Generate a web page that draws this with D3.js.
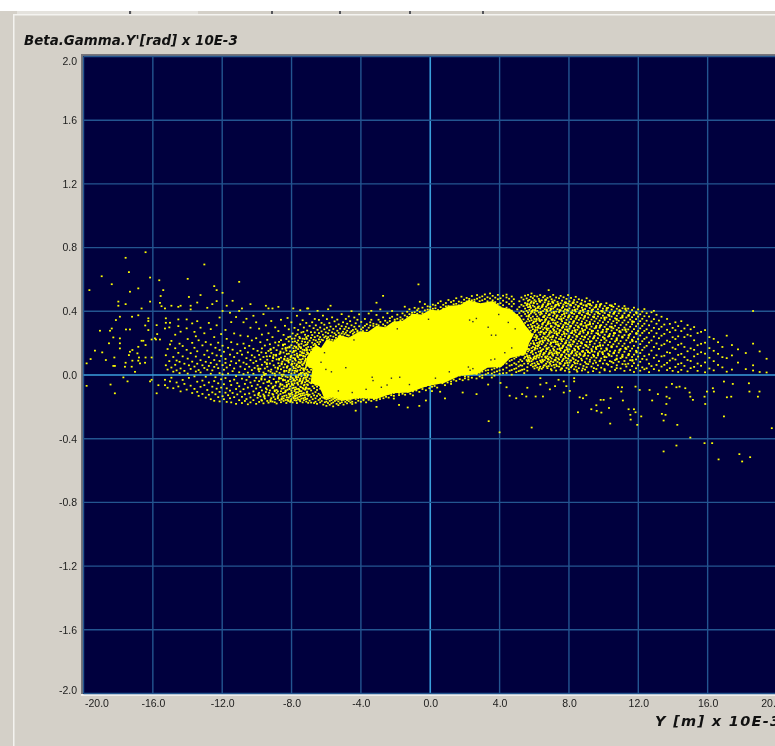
<!DOCTYPE html>
<html>
<head>
<meta charset="utf-8">
<script src="https://cdn.jsdelivr.net/npm/d3@7"></script>
<style>
  html, body { margin: 0; padding: 0; background: #d4d0c8; overflow: hidden; }
  svg { display: block; filter: blur(0.35px); }
</style>
</head>
<body>
<div id="chart"></div>
<script>
// tick labels
var xTicks = [-20, -16, -12, -8, -4, 0, 4, 8, 12, 16, 20];
var yTicks = [2, 1.6, 1.2, 0.8, 0.4, 0, -0.4, -0.8, -1.2, -1.6, -2];

// solid centre of the beam, outline [y, y'], everything in it is saturated
var coreOutline = [[-7.1,.115],[-6.6,.19],[-6.3,.17],[-5.97,.225],[-5.6,.21],[-5.2,.25],[-4.7,.235],[-4.06,.275],[-3.6,.27],[-3.1,.31],[-2.6,.3],[-2.16,.335],
  [-1.6,.34],[-1,.385],[-.5,.38],[0,.41],[.5,.405],[1.1,.435],[1.7,.44],[2.2,.47],[2.9,.45],[3.6,.465],[4.1,.425],[4.6,.415],[5.16,.365],[5.5,.31],[5.95,.25],
  [5.7,.2],[5.5,.13],[4.6,.105],[4.1,.05],[3.3,.045],[2.7,.005],[1.7,-.005],[.8,-.05],[-.2,-.07],[-1.2,-.11],[-2.16,-.115],[-3.1,-.15],[-4.06,-.145],
  [-5,-.16],[-5.7,-.14],[-6.1,-.15],[-6.4,-.07],[-6.9,-.05],[-6.8,.04],[-7.2,.06]];

// small holes left in the saturated centre
var coreGaps = [[-6.02,.035],[-4.87,.046],[-3.35,-.014],[-3.3,-.035],[-2.24,-.02],[-1.76,-.014],[-2.49,-.063],[-2.82,-.077],[2.2,.05],[2.3,.03],[2.46,.04],
  [3.34,.3],[3.53,.25],[3.78,.25],[2.27,.345],[2.46,.335],[2.66,.355],[3.5,.095],[3.72,.1],[-5.3,-.1],[-5.7,.02],[-6.3,.08],[-6.1,.14],[-4.5,-.11],[-3.7,-.09],
  [-1.2,-.06],[.3,-.02],[1.1,.02],[4.3,.14],[4.7,.17],[4.5,.33],[4.9,.29],[3.95,.38],[-.1,.35],[-1.9,.29],[-4.4,.22]];

// single particles around the centre, grouped as [y, [y' values]] in vertical strips
var farLeft = [[-19.82,[.073,-.068]],[-19.66,[.533]],[-19.59,[.1]],[-19.34,[.153]],[-19.05,[.278]],[-18.95,[.62]],[-18.92,[.142]],
  [-18.71,[.094]],[-18.53,[.199]],[-18.47,[.278]],[-18.44,[-.06]],[-18.37,[.57,.292]],[-18.28,[.236,.057]],[-18.22,[.11]],
  [-18.19,[-.115,.057]],[-18.13,[.345]],[-17.99,[.461,.435]],[-17.9,[.366,.23,.199,.167]],[-17.7,[-.015]],[-17.61,[.052]],
  [-17.57,[.736,.445,.077]],[-17.55,[.286]],[-17.46,[-.04]],[-17.38,[.646,.125]],[-17.32,[.523,.286,.146]],[-17.22,[.052]],
  [-17.2,[.366]],[-17.18,[.157,.09]],[-17.03,[.02]],[-16.89,[.136]],[-16.84,[.544,.375,.177,.09]],[-16.8,[.11]],[-16.74,[.073]],
  [-16.65,[.418,.215]],[-16.55,[.215]],[-16.45,[.077]],[-16.44,[.311]],[-16.42,[.771,.188,.11]],[-16.26,[.356,.339,.282]],
  [-16.16,[.612,.461,-.04]],[-16.07,[.223,.11,-.03]],[-15.88,[.23]],[-15.82,[.223]],[-15.78,[.313,-.115]],[-15.75,[.257]],
  [-15.68,[-.064]],[-15.63,[.595]],[-15.59,[.453,.223]],[-15.55,[.496]],[-15.5,[.432]],[-15.4,[.533]],[-15.3,[.418,.292,-.03,-.064]],
  [-15.25,[.356,.328,.124,.061]],[-15.15,[-.08,.163,.034]],[-15.05,[.299,.087]],[-15.01,[.328,-.04,.192]]];

var midLeft = [[-14.93,[.435,.214,.047,-.017]],[-14.82,[.113,.021,-.083]],[-14.71,[.253,.168,.064]],[-14.63,[.091,-.047,.029]],[-14.53,[.428,.349,.307,.139,-.072]],
  [-14.46,[.197,.083,.012]],[-14.4,[.435,.272,.041,-.103]],[-14.28,[.182,.117,-.031]],[-14.18,[.071,.026,-.056]],[-14.05,[.349,.293,.158,-.092]],[-13.99,[.604,.226,.103,.009]],
  [-13.92,[.49,.061,-.018]],[-13.82,[.435,.412,.137,.038,-.067]],[-13.73,[.324,.202,.084,-.113]],[-13.6,[.271,.171,.053,-.009,-.087]],[-13.52,[.243,.116,.022]],
  [-13.44,[.455,.338,.149,.071,-.042,-.106]],[-13.36,[.218,.031,-.131]],[-13.25,[.502,.297,.093,.016,-.074]],[-13.14,[.186,.061,-.035,-.119]],
  [-13.03,[.694,.262,.127,.044,-.064]],[-12.95,[.207,.083,-.011,-.142]],[-12.86,[.422,.153,.033,-.094]],[-12.77,[.327,.112,.057,-.047,-.124]],
  [-12.66,[.288,.191,.076,.008,-.152]],[-12.57,[.445,.136,.029,-.073,-.109]],[-12.46,[.558,.238,.094,.051,-.038,-.162]],[-12.39,[.171,-.014,-.121]],
  [-12.32,[.533,.464,.312,.123,.066,-.086]],[-12.23,[.203,.043,-.052,-.139]],[-12.15,[.361,.157,.088,.012,-.106,-.166]],[-12.06,[.257,.119,-.027,-.079]],
  [-11.98,[.516,.402,.184,.062,.004,-.133]]];

var nearLeft = [[-11.9,[.146,.033,-.058,-.152]],[-11.81,[.283,.101,.076,-.019,-.111]],[-11.74,[.435,.227,.047,-.084,-.169]],[-11.66,[.171,.009,-.127]],
  [-11.55,[.391,.128,.062,-.038,-.098,-.146]],[-11.48,[.332,.206,.086,-.063,-.172]],[-11.4,[.466,.159,.024,-.113]],[-11.31,[.261,.113,.041,-.029,-.139]],
  [-11.2,[.364,.074,-.007,-.088,-.181]],[-11.13,[.193,.137,-.051,-.122]],[-11.02,[.585,.402,.091,.017,-.071,-.158]],[-10.95,[.248,.152,.053,-.104]],
  [-10.86,[.418,.128,-.023,-.137,-.176]],[-10.77,[.331,.197,.078,.006,-.089]],[-10.69,[.169,.037,-.056,-.121,-.163]],[-10.6,[.353,.106,.068,-.031,-.151]],
  [-10.52,[.243,.142,.015,-.079,-.184]],[-10.44,[.183,.052,-.012,-.116]],[-10.37,[.445,.297,.093,-.047,-.141,-.172]],[-10.29,[.217,.124,.031,-.069]],
  [-10.2,[.372,.164,.076,.008,-.103,-.158]],[-10.13,[.111,.044,-.036,-.127]],[-10.04,[.331,.231,.087,-.018,-.085,-.181]],[-9.96,[.152,.058,-.061,-.143]],
  [-9.87,[.291,.126,.023,-.039,-.112,-.169]],[-9.8,[.206,.098,.039,-.076,-.134]],[-9.71,[.254,.167,.064,-.009,-.097,-.161]],[-9.62,[.382,.113,.016,-.052,-.122,-.178]],
  [-9.54,[.185,.081,.041,-.028,-.148]],[-9.48,[.435,.311,.138,.007,-.083,-.107]],[-9.4,[.221,.096,.052,-.044,-.163]],[-9.33,[.418,.262,.151,.027,-.068,-.128,-.174]],
  [-9.25,[.193,.118,.072,-.014,-.097]],[-9.17,[.339,.139,.034,-.053,-.146]],[-9.1,[.418,.238,.089,.011,-.081,-.119,-.167]],[-9.03,[.171,.126,.061,-.026,-.138]],
  [-8.94,[.299,.204,.047,-.004,-.067,-.152]],[-8.86,[.156,.098,.022,-.094,-.113,-.179]],[-8.76,[.428,.276,.186,.074,-.041,-.127]],[-8.69,[.132,.057,.013,-.073,-.158]],
  [-8.61,[.347,.219,.109,.036,-.021,-.102,-.171]],[-8.53,[.165,.084,-.008,-.061,-.136]],[-8.46,[.252,.141,.048,.003,-.084,-.147,-.163]],[-8.38,[.309,.193,.117,.067,-.032,-.109]],
  [-8.3,[.226,.153,.091,.026,-.046,-.074,-.128,-.176]],[-8.23,[.358,.172,.103,.056,-.014,-.093,-.156]],[-8.16,[.287,.211,.134,.078,.017,-.056,-.117,-.142]],
  [-8.08,[.241,.149,.097,.038,-.027,-.071,-.133,-.169]],[-8.01,[.331,.187,.121,.064,.009,-.043,-.098,-.151]],[-7.94,[.261,.208,.142,.086,.029,-.019,-.083,-.124,-.172]],
  [-7.9,[.418,.168,.107,.052,-.035,-.063,-.139]],[-7.83,[.296,.229,.181,.127,.073,.013,-.052,-.101,-.158]],[-7.76,[.247,.153,.091,.041,-.007,-.078,-.116,-.147]],
  [-7.69,[.372,.203,.134,.067,.022,-.029,-.088,-.129,-.176]],[-7.62,[.283,.217,.163,.111,.049,-.013,-.061,-.108,-.154]],[-7.55,[.239,.177,.098,.058,.006,-.039,-.094,-.137]],
  [-7.5,[.407,.318,.147,.076,.031,-.022,-.073,-.119,-.165]],[-7.43,[.267,.196,.124,.083,.043,-.008,-.054,-.101,-.148]],[-7.36,[.344,.228,.159,.101,.061,.014,-.034,-.081,-.127,-.172]],
  [-7.29,[.298,.184,.137,.072,.027,-.017,-.066,-.113,-.158]],[-7.22,[.253,.207,.116,.089,.038,-.004,-.046,-.092,-.141]],[-7.15,[.327,.238,.169,.128,.056,.011,-.028,-.077,-.122,-.167]],
  [-7.1,[.418,.279,.193,.143,.079,.033,-.012,-.059,-.104,-.149]],[-7.04,[.418,.246,.176,.107,.066,.021,-.037,-.086,-.131,-.175]]];

// second reading of the busy patch left of the centre, these clump into short chains
var nearLeftClumps = [[-9.91,[.041,.034,-.118,-.126]],[-9.74,[.142,-.021,-.029,-.157]],[-9.57,[.006,-.001,-.131,-.138]],[-9.43,[.117,.074,.068,-.091]],[-9.29,[-.036,-.043,-.112]],
  [-9.21,[.163,.158,.021,-.157,-.166]],[-9.06,[.112,.106,-.073,-.079,-.124]],[-8.97,[.009,-.096,-.102,-.171]],[-8.89,[.127,.121,-.043,-.048]],[-8.79,[.046,.039,-.138,-.146,-.103]],
  [-8.72,[.208,.102,.096,-.017,-.024]],[-8.64,[.147,.139,-.054,-.062,-.119]],[-8.57,[.073,.067,.002,-.086,-.148,-.154]],[-8.49,[.191,.186,-.028,-.034,-.112]],
  [-8.42,[.102,.096,.027,.021,-.071,-.131]],[-8.34,[.171,.164,-.009,-.097,-.103,-.157]],[-8.27,[.132,.051,.046,-.061,-.067,-.141]],[-8.19,[.238,.092,.086,-.036,-.041,-.163]],
  [-8.12,[.178,.173,.034,.029,-.084,-.089,-.124]],[-8.05,[.117,.111,-.008,-.013,-.118,-.159,-.164]],[-7.98,[.228,.071,.066,-.056,-.061,-.111]],[-7.87,[.152,.146,.043,-.027,-.079,-.146]],
  [-7.8,[.211,.104,.098,.026,-.036,-.091,-.128,-.134]],[-7.73,[.176,.171,.058,-.013,-.018,-.108,-.161]],[-7.66,[.256,.122,.116,.029,-.048,-.052,-.144]],[-7.59,[.193,.188,.082,.077,-.001,-.087,-.121]],
  [-7.52,[.231,.128,.123,.052,-.031,-.036,-.102,-.157]],[-7.46,[.174,.169,.096,.013,.008,-.076,-.131]],[-7.39,[.211,.143,.138,.067,-.043,-.048,-.116]],
  [-7.32,[.271,.121,.116,.042,.036,-.024,-.087,-.146]],[-7.25,[.226,.158,.153,.081,.009,.004,-.061,-.127]],[-7.18,[.189,.102,.097,.047,-.017,-.081,-.086,-.152]],
  [-7.12,[.227,.161,.156,.067,.062,-.038,-.109]],[-7.06,[.204,.138,.133,.091,.004,-.002,-.063,-.121]]];

var upperHalo = [[-6.96,[.382,.308,.216,.157,.131]],[-6.88,[.269,.233,.176,.144]],[-6.81,[.331,.251,.203,.162]],[-6.73,[.294,.221,.188,.169]],[-6.66,[.352,.267,.238,.196]],
  [-6.6,[.312,.217,.187]],[-6.5,[.403,.284,.246,.206]],[-6.42,[.346,.263,.224,.194]],[-6.35,[.298,.238,.208]],[-6.27,[.327,.274,.222]],[-6.19,[.373,.253,.218]],
  [-6.11,[.316,.287,.236]],[-6.03,[.268,.243]],[-5.96,[.351,.297,.229]],[-5.89,[.413,.262,.238]],[-5.82,[.326,.281,.224]],[-5.75,[.435,.304,.246]],[-5.66,[.362,.268,.221]],
  [-5.59,[.289,.241]],[-5.52,[.337,.262,.219]],[-5.44,[.305,.252,.233]],[-5.36,[.348,.278]],[-5.28,[.318,.264,.243]],[-5.2,[.291,.249]],[-5.11,[.382,.307,.261]],
  [-5.03,[.331,.272,.242]],[-4.95,[.289,.257]],[-4.87,[.352,.303,.266]],[-4.79,[.322,.278,.251]],[-4.7,[.368,.294,.248]],[-4.62,[.338,.268]],[-4.54,[.401,.312,.276]],
  [-4.46,[.283,.259]],[-4.38,[.361,.303,.268]],[-4.3,[.325,.288]],[-4.2,[.347,.279,.271]],[-4.1,[.381,.306]],[-3.98,[.333,.287]],[-3.88,[.298,.276]],[-3.77,[.352,.309]],
  [-3.66,[.319,.281]],[-3.55,[.386,.297]],[-3.46,[.331,.311]],[-3.4,[.403,.347]],[-3.28,[.322,.308]],[-3.1,[.454,.377,.318]],[-2.98,[.347,.312]],[-2.88,[.412,.333]],
  [-2.72,[.497,.362,.318]],[-2.6,[.341,.309]],[-2.47,[.388,.329]],[-2.33,[.357,.339]],[-2.2,[.402,.366]],[-2.05,[.348,.337]],[-1.9,[.379,.353]],[-1.72,[.362,.344]],
  [-1.6,[.387,.351]],[-1.47,[.429,.374]],[-1.33,[.397,.366]],[-1.2,[.413,.382]],[-1.05,[.391,.378]],[-.9,[.422,.394]],[-.75,[.407,.385]],[-.68,[.569,.417]],
  [-.6,[.46,.396]],[-.45,[.423,.388]],[-.31,[.445,.406]],[-.15,[.431,.411]],[0,[.428,.409]],[.15,[.442,.416]],[.3,[.437,.419]],[.45,[.451,.408]],[.6,[.463,.426]],
  [.75,[.441,.417]],[.9,[.452,.431]],[1.05,[.471,.433]],[1.2,[.458,.429]],[1.35,[.466,.444]],[1.5,[.482,.447]],[1.65,[.461,.438]],[1.8,[.492,.456]],[1.95,[.473,.452]],
  [2.1,[.484,.462]],[2.25,[.478,.466]],[2.4,[.496,.469]],[2.55,[.473,.461]],[2.7,[.502,.479]],[2.85,[.487,.464]],[3,[.494,.469]],[3.15,[.506,.477]],[3.3,[.488,.463]],
  [3.45,[.512,.481]],[3.6,[.497,.469]],[3.75,[.486,.458]],[3.9,[.503,.476,.446]],[4.05,[.482,.451,.426]],[4.2,[.498,.467,.438]],[4.4,[.487,.505,.457,.423]],
  [4.55,[.479,.446,.412]],[4.7,[.493,.462,.431,.404]],[4.82,[.476,.447,.388]]];

var lowerHalo = [[-6.96,[.048,.017,-.023,-.047,-.086,-.124,-.161]],[-6.87,[.033,-.006,-.052,-.097,-.138,-.173]],[-6.78,[.054,.011,-.034,-.071,-.116,-.152]],
  [-6.7,[-.047,-.083,-.128,-.176]],[-6.62,[-.031,-.062,-.107,-.146,-.168]],[-6.53,[-.073,-.094,-.132,-.181]],[-6.44,[-.058,-.118,-.157]],[-6.35,[-.086,-.126,-.149,-.172]],
  [-6.26,[-.091,-.138,-.163]],[-6.17,[-.109,-.143,-.186]],[-6.08,[-.148,-.171]],[-5.99,[-.152,-.167,-.194]],[-5.9,[-.149,-.176]],[-5.8,[-.146,-.163,-.187]],
  [-5.7,[-.142,-.158,-.178]],[-5.6,[-.151,-.172,-.197]],[-5.5,[-.147,-.163]],[-5.4,[-.156,-.181]],[-5.3,[-.151,-.166,-.189]],[-5.2,[-.154,-.177]],[-5.1,[-.158,-.171]],
  [-5,[-.155,-.186]],[-4.9,[-.152,-.169]],[-4.8,[-.158,-.178]],[-4.7,[-.149,-.164]],[-4.6,[-.155,-.173]],[-4.5,[-.147,-.168,-.182]],[-4.3,[-.224,-.151,-.174]],
  [-4.15,[-.146,-.162]],[-4,[-.143,-.168]],[-3.85,[-.152,-.159]],[-3.7,[-.144,-.172]],[-3.55,[-.148,-.156]],[-3.4,[-.141,-.163]],[-3.25,[-.146,-.152]],
  [-3.1,[-.2,-.147,-.159]],[-2.9,[-.136,-.151]],[-2.7,[-.128,-.146]],[-2.55,[-.121,-.137]],[-2.4,[-.119,-.142]],[-2.25,[-.116,-.127]],[-2.1,[-.113,-.131,-.148]],
  [-1.8,[-.188,-.112,-.126]],[-1.6,[-.103,-.118]],[-1.45,[-.097,-.124]],[-1.3,[-.204,-.106]],[-1.15,[-.094,-.118]],[-1,[-.089,-.103,-.128]],[-.8,[-.084,-.097]],
  [-.63,[-.194,-.076,-.106]],[-.45,[-.072,-.088]],[-.25,[-.16,-.069,-.096]],[-.05,[-.064,-.083]],[.1,[-.058,-.074,-.101]],[.25,[-.049,-.069]],[.4,[-.046,-.079]],
  [.57,[-.105,-.038]],[.7,[-.034,-.052]],[.85,[-.147,-.031,-.064]],[1,[-.023,-.047]],[1.2,[-.018,-.041,-.056]],[1.35,[-.014,-.029]],[1.5,[-.009,-.037]],
  [1.7,[-.004,-.026]],[1.87,[-.11,.002,-.033]],[2,[-.008,-.021]],[2.2,[.004,-.012,-.028]],[2.4,[.009,-.017]],[2.67,[-.12,.006,-.022]],[2.85,[.014,-.009]],
  [3,[.021,-.003,-.018]],[3.2,[.028,.004]],[3.34,[-.06,.031,.012]],[3.37,[-.29]],[3.55,[.034,.009,-.016]],[3.7,[.041,.017,-.004]],[3.85,[.047,.023]],
  [4,[-.36,.052,.029,.007]],[4.05,[-.05]],[4.2,[.067,.034,.011]],[4.4,[-.077,.072,.046,.013]],[4.58,[-.13,.088,.059,.027]],[4.7,[.094,.063,.031,.002]],[4.85,[.103,.074,.038]],
  [4.96,[-.146,.112,.067,.042,.018]],[5.1,[.121,.083,.054,.024]],[5.2,[.133,.096,.061,.028]],[5.3,[-.12,.126,.087,.059,.033]],[5.42,[.147,.104,.071,.036,.012]],
  [5.54,[-.135]],[5.6,[-.08,.163,.119,.086,.049,.027]],[5.85,[-.33]],[6.08,[-.135]],[6.5,[-.135]],[6.7,[-.05]],[7.2,[-.07]],[7.85,[-.07]],[8.05,[-.1]]];

var nearRight = [[5.02,[.412,.378,.341,.358]],[5.14,[.463,.427,.389,.356]],[5.26,[.487,.441,.402,.371,.334,.186,.163]],[5.38,[.474,.433,.396,.349,.312,.176,.148,.127]],
  [5.47,[.498,.452,.417,.383,.327,.218,.193,.157,.113]],[5.56,[.481,.438,.403,.369,.336,.287,.229,.171,.132,.094]],[5.64,[.503,.466,.426,.392,.351,.313,.206,.148,.108,.072]],
  [5.72,[.472,.444,.409,.378,.339,.298,.267,.186,.157,.121,.084]],[5.8,[.491,.453,.421,.387,.358,.317,.279,.233,.198,.141,.103,.062]],[5.84,[.512,.462,.397,.344,.246,.169,.087]],
  [5.92,[.483,.436,.408,.367,.326,.288,.257,.214,.176,.131,.096,.053]],[6.01,[.497,.471,.429,.391,.352,.309,.269,.237,.193,.158,.117,.074,.041]],
  [6.09,[.462,.418,.381,.337,.298,.251,.219,.183,.139,.102,.061]],[6.17,[.493,.447,.403,.368,.322,.283,.243,.201,.166,.124,.083,.047]],
  [6.26,[.478,.431,.392,.356,.311,.267,.226,.188,.147,.109,.068,.032]],[6.34,[.502,.459,.417,.379,.338,.294,.254,.212,.171,.133,.091,.052]],
  [6.43,[.469,.426,.385,.346,.303,.272,.231,.193,.156,.114,.078,.039]],[6.51,[.488,.444,.402,.364,.327,.286,.241,.204,.162,.127,.086,.048]],
  [6.6,[.497,.456,.413,.373,.333,.296,.258,.217,.179,.138,.094,.061]],[6.68,[.473,.429,.388,.351,.309,.269,.228,.186,.149,.107,.071]],
  [6.76,[.484,.438,.399,.362,.318,.281,.243,.199,.163,.118,.083,.043]],[6.83,[.533,.462,.421,.376,.337,.292,.252,.214,.172,.131,.096,.056]],
  [6.92,[.491,.447,.406,.358,.323,.276,.237,.191,.154,.112,.069]],[7,[.476,.431,.392,.347,.306,.268,.223,.181,.142,.103,.058,.029]],
  [7.09,[.503,.453,.417,.371,.329,.289,.247,.206,.166,.121,.081]],[7.17,[.468,.426,.384,.343,.301,.263,.218,.177,.136,.094,.047]],
  [7.26,[.487,.441,.398,.359,.316,.273,.234,.193,.148,.109,.066,.028]],[7.34,[.459,.413,.374,.332,.291,.249,.208,.163,.126,.082]],
  [7.43,[.482,.436,.394,.352,.307,.264,.226,.183,.139,.097,.053]],[7.52,[.497,.451,.407,.366,.323,.281,.239,.197,.154,.113,.071,.032]],
  [7.6,[.467,.421,.378,.338,.296,.253,.212,.169,.128,.086,.041]],[7.69,[.488,.443,.401,.357,.314,.272,.227,.186,.143,.102,.058]],
  [7.77,[.456,.412,.369,.328,.286,.243,.198,.156,.117,.074,.027]],[7.86,[.478,.433,.389,.346,.303,.258,.217,.174,.131,.089,.044]],
  [7.95,[.502,.448,.404,.361,.319,.274,.232,.188,.147,.103,.061]],[8.03,[.463,.418,.376,.332,.291,.247,.204,.161,.119,.078,.019]],
  [8.12,[.484,.437,.392,.351,.308,.263,.221,.179,.134,.091,.048]],[8.21,[.451,.407,.366,.323,.278,.236,.193,.152,.108,.063]],
  [8.3,[.471,.426,.383,.339,.296,.254,.209,.166,.123,.081,.036]],[8.39,[.491,.442,.398,.353,.312,.268,.224,.181,.137,.094,.052]]];

// second reading of the busy patch right of the centre, these clump into short chains
var nearRightClumps = [[5.6,[.449,.443,.261,.254,.118]],[5.68,[.372,.366,.241,.234,.164,.096,.091]],[5.76,[.433,.427,.252,.246,.109]],[5.88,[.403,.397,.307,.301,.152,.146,.071]],
  [5.97,[.456,.451,.336,.331,.201,.196,.108,.103]],[6.05,[.409,.404,.282,.276,.171,.166,.058]],[6.13,[.352,.346,.237,.231,.118,.113]],[6.21,[.426,.421,.301,.296,.186,.181,.071]],
  [6.3,[.468,.463,.348,.342,.206,.201,.126,.121,.043]],[6.38,[.396,.391,.273,.268,.151,.146,.082]],[6.47,[.437,.431,.321,.316,.217,.211,.097,.092]],[6.55,[.368,.363,.264,.259,.138,.133,.059]],
  [6.64,[.474,.469,.348,.343,.236,.231,.116,.111]],[6.72,[.411,.406,.293,.288,.168,.163,.053]],[6.8,[.449,.444,.329,.323,.223,.218,.104,.099]],[6.88,[.382,.377,.266,.261,.142,.137,.078]],
  [6.96,[.417,.412,.308,.303,.204,.199,.086,.037]],[7.05,[.462,.457,.351,.346,.243,.238,.132,.127]],[7.13,[.396,.391,.283,.278,.158,.153,.064]],[7.22,[.438,.433,.326,.321,.211,.206,.096,.091]],
  [7.3,[.373,.368,.261,.256,.142,.137,.056]],[7.38,[.447,.442,.312,.307,.194,.189,.104]],[7.47,[.407,.402,.282,.277,.168,.163,.076,.071]],[7.56,[.352,.347,.226,.221,.127,.122,.041]],
  [7.65,[.431,.426,.304,.299,.182,.177,.094]],[7.73,[.388,.383,.263,.258,.147,.142,.062]],[7.82,[.456,.451,.328,.323,.206,.201,.108]],[7.9,[.411,.406,.286,.281,.163,.158,.076]],
  [7.99,[.371,.366,.243,.238,.126,.121,.036]],[8.08,[.442,.437,.308,.303,.189,.184,.091]],[8.17,[.393,.388,.268,.263,.144,.139,.056]],[8.26,[.458,.453,.336,.331,.213,.208,.101]],
  [8.35,[.411,.406,.282,.277,.159,.154,.073]],[8.44,[.367,.362,.246,.241,.127,.122,.031]],[8.53,[.433,.428,.306,.301,.178,.173,.087]],[8.62,[.392,.387,.263,.258,.136,.131]],
  [8.71,[.451,.446,.322,.317,.206,.201,.102]],[8.8,[.411,.406,.281,.276,.151,.146,.041]],[8.9,[.367,.362,.241,.236,.127,.122]],[9,[.439,.434,.312,.307,.186,.181,.071]],
  [9.1,[.389,.384,.266,.261,.149,.144]],[9.21,[.446,.441,.323,.318,.211,.206,.096]],[9.32,[.408,.403,.279,.274,.153,.148]],[9.44,[.367,.362,.238,.233,.121,.116,.043]],
  [9.56,[.432,.427,.302,.297,.174,.169,.078]],[9.68,[.393,.388,.261,.256,.137,.132]],[9.8,[.443,.438,.311,.306,.188,.183,.091]],[9.93,[.402,.397,.273,.268,.144,.139]],
  [10.05,[.361,.356,.232,.227,.117,.112,.037]],[10.18,[.421,.416,.289,.284,.163,.158,.071]],[10.32,[.376,.371,.249,.244,.128,.123]],[10.46,[.437,.432,.303,.298,.181,.176,.083]],
  [10.6,[.391,.386,.264,.259,.142,.137]],[10.75,[.352,.347,.223,.218,.103,.098,.043]],[10.92,[.408,.403,.276,.271,.158,.153]],[11.08,[.366,.361,.241,.236,.118,.113]],
  [11.26,[.418,.413,.287,.282,.171,.166,.067]],[11.45,[.377,.372,.251,.246,.133,.128]],[11.66,[.338,.333,.217,.212,.094,.089]],[11.9,[.392,.387,.263,.258,.147,.142]]];

var midRight = [[8.48,[.458,.414,.371,.327,.284,.241,.197,.146,.073,.021]],[8.57,[.476,.432,.388,.346,.298,.256,.213,.164,.112,.043]],[8.66,[.447,.403,.358,.317,.273,.228,.183,.126,.067]],
  [8.75,[.469,.423,.377,.336,.291,.243,.198,.148,.092,.028]],[8.84,[.438,.394,.352,.308,.266,.221,.171,.118,.057]],[8.93,[.461,.414,.371,.327,.283,.237,.189,.137,.081,.034]],
  [9.02,[.482,.431,.386,.341,.296,.252,.207,.156,.103,.049]],[9.11,[.447,.403,.361,.316,.269,.226,.174,.121,.068,.017]],[9.2,[.467,.421,.378,.333,.287,.241,.191,.139,.084]],
  [9.3,[.436,.393,.348,.304,.261,.212,.163,.109,.053]],[9.39,[.456,.412,.366,.322,.277,.229,.178,.127,.072,.024]],[9.48,[.424,.381,.337,.293,.246,.197,.146,.091]],
  [9.58,[.441,.397,.354,.309,.263,.216,.162,.108,.038]],[9.67,[.461,.413,.368,.326,.278,.231,.181,.123,.061]],[9.77,[.428,.384,.342,.297,.249,.203,.148,.087,.016]],
  [9.86,[.446,.402,.358,.313,.267,.219,.166,.104,.046]],[9.96,[.417,.373,.331,.284,.238,.186,.131,.072]],[10.06,[.433,.389,.346,.302,.253,.204,.151,.093,.029]],
  [10.16,[.451,.406,.361,.317,.271,.217,.168,.112]],[10.26,[.422,.378,.333,.288,.241,.189,.134,.064]],[10.36,[.438,.392,.349,.304,.258,.206,.149,.087,.023]],
  [10.46,[.411,.367,.323,.279,.227,.174,.118,.051]],[10.56,[.428,.384,.338,.293,.246,.193,.136,.076]],[10.66,[.446,.398,.356,.309,.263,.211,.153,.094,.032]],
  [10.76,[.416,.372,.328,.283,.231,.179,.122,.061]],[10.87,[.431,.387,.341,.296,.248,.198,.141,.083]],[10.98,[.402,.358,.314,.268,.213,.164,.106,.041]],
  [11.09,[.419,.374,.329,.284,.236,.182,.127,.069]],[11.2,[.433,.388,.343,.298,.251,.197,.146,.088,.026]],[11.31,[.404,.361,.316,.271,.218,.163,.109,.053]],
  [11.42,[.417,.373,.331,.286,.233,.178,.124,.071]],[11.53,[.392,.349,.303,.258,.204,.151,.093,.031]],[11.64,[.408,.363,.319,.273,.222,.166,.113,.056]],
  [11.75,[.423,.378,.334,.288,.237,.183,.128,.074,.019]],[11.87,[.394,.351,.306,.261,.209,.152,.098,.042]],[11.99,[.412,.367,.322,.276,.226,.171,.116,.061]],
  [12.11,[.381,.338,.293,.248,.194,.138,.083,.027]],[12.23,[.398,.353,.308,.264,.212,.157,.101,.048]],[12.35,[.414,.369,.322,.277,.227,.173,.119,.036]]];

var farRight = [[12.48,[.388,.341,.287,.236,.183,.097,.042]],[12.62,[.367,.312,.264,.204,.129,.071,.018]],[12.76,[.394,.336,.278,.217,.153,.056]],[12.9,[.403,.351,.296,.241,.176,.108,.037]],
  [13.05,[.378,.322,.262,.198,.124,.063]],[13.19,[.342,.289,.231,.164,.087,.028]],[13.34,[.366,.303,.247,.186,.117,.053]],[13.5,[.317,.258,.194,.121,.064]],
  [13.66,[.352,.284,.216,.143,.076,.031]],[13.82,[.321,.269,.208,.139,.091,.043]],[13.98,[.296,.237,.172,.104,.026]],[14.14,[.331,.281,.226,.163,.097,.051]],
  [14.3,[.307,.243,.189,.126,.068,.019]],[14.48,[.338,.276,.197,.133,.074,.032]],[14.66,[.292,.238,.176,.112,.057]],[14.84,[.313,.253,.149,.094,.023]],
  [15.02,[.287,.246,.167,.088,.043]],[15.22,[.301,.218,.158,.117,.051]],[15.42,[.263,.187,.131,.072,.026]],[15.62,[.271,.196,.143,.058]],[15.85,[.282,.203,.134,.079,.017]],
  [16.1,[.238,.169,.108,.041]],[16.35,[.227,.152,.087,.029]],[16.6,[.206,.133,.063]],[16.85,[.176,.112,.048]],[17.1,[.247,.106,.021]],[17.4,[.188,.123,.034]],
  [17.75,[.161,.078]],[18.2,[.138,.037]],[18.62,[.402,.197,.061,.028]],[19,[.148,.019]],[19.4,[.102,.016]]];

// particles below the zero line on the right hand side
var belowRight = [[8.52,[-.234]],[8.62,[-.14]],[8.81,[-.146]],[9,[-.127]],[9.29,[-.215]],[9.58,[-.19]],[9.6,[-.225]],[9.83,[-.156]],[9.87,[-.236]],[10,[-.156]],
  [10.31,[-.207]],[10.38,[-.305]],[10.4,[-.146]],[10.83,[-.077]],[11.02,[-.104]],[11.06,[-.077]],[11.11,[-.16]],[11.44,[-.215]],[11.54,[-.25]],[11.56,[-.28]],
  [11.75,[-.215]],[11.84,[-.234,-.073]],[11.94,[-.313]],[12.08,[-.094]],[12.17,[-.26]],[12.65,[-.094]],[12.8,[-.16]],[13.13,[-.12]],[13.36,[-.244]],[13.46,[-.286,-.48]],
  [13.57,[-.25]],[13.62,[-.182,-.077]],[13.63,[-.136]],[13.8,[-.146]],[13.94,[-.056]],[14.2,[-.077,-.443]],[14.25,[-.313]],[14.38,[-.073]],[14.71,[-.083]],
  [14.96,[-.11]],[15,[-.136,-.393]],[15.15,[-.156]],[15.82,[-.136,-.428]],[15.86,[-.182]],[15.96,[-.104]],[16.26,[-.428]],[16.3,[-.083]],[16.36,[-.104]],
  [16.63,[-.53]],[16.94,[-.041,-.26]],[17.11,[-.14]],[17.36,[-.136]],[17.45,[-.056]],[17.83,[-.497]],[17.99,[-.543]],[18.38,[-.052]],[18.41,[-.104]],
  [18.45,[-.516]],[18.9,[-.136]],[18.99,[-.104]],[19.7,[-.334]],[6.35,[-.06,-.02]],[6.9,[-.09]],[7.4,[-.03]],[7.7,[-.11,-.04]],[8.3,[-.04,-.02]]];

var width = 775, height = 746;

var svg = d3.select("#chart").append("svg")
  .attr("width", width)
  .attr("height", height);

var x = d3.scaleLinear().domain([-20, 20]).range([83.5, 777]);
var y = d3.scaleLinear().domain([-2, 2]).range([693.5, 56.5]);

// window furniture around the plot
svg.append("rect").attr("width", width).attr("height", 11).attr("fill", "#ffffff");
svg.append("rect").attr("x", 13).attr("y", 14).attr("width", width).attr("height", 1.5).attr("fill", "#f4f3f0");
svg.append("rect").attr("x", 13).attr("y", 14).attr("width", 1.5).attr("height", height).attr("fill", "#f4f3f0");
[[17, 130], [132, 198]].forEach(function(t) {
  svg.append("rect").attr("x", t[0]).attr("y", 11).attr("width", t[1] - t[0]).attr("height", 3).attr("fill", "#e4e2dd");
});
[130, 272, 340, 410, 483].forEach(function(t) {
  svg.append("rect").attr("x", t - 1).attr("y", 11).attr("width", 2).attr("height", 3).attr("fill", "#55555a");
});

// plot frame and background
svg.append("rect").attr("x", 81).attr("y", 54).attr("width", 700).attr("height", 642).attr("fill", "#77757a");
svg.append("rect").attr("x", 81).attr("y", 694).attr("width", 700).attr("height", 2).attr("fill", "#f0efec");
svg.append("rect").attr("x", 83).attr("y", 56).attr("width", 700).attr("height", 638).attr("fill", "#00003e");

var grid = svg.append("g");
grid.selectAll(".gx").data(xTicks).enter().append("line")
  .attr("x1", function(d) { return x(d); }).attr("x2", function(d) { return x(d); })
  .attr("y1", y(2)).attr("y2", y(-2))
  .attr("stroke", function(d) { return d === 0 ? "#3a9fdc" : "#235590"; })
  .attr("stroke-width", function(d) { return d === 0 ? 1.6 : 1.4; });
grid.selectAll(".gy").data(yTicks).enter().append("line")
  .attr("y1", function(d) { return y(d); }).attr("y2", function(d) { return y(d); })
  .attr("x1", x(-20)).attr("x2", width)
  .attr("stroke", function(d) { return d === 0 ? "#3a9fdc" : "#235590"; })
  .attr("stroke-width", function(d) { return d === 0 ? 1.6 : 1.4; });

// particles
svg.append("path")
  .attr("d", d3.line().x(function(d) { return x(d[0]); }).y(function(d) { return y(d[1]); })(coreOutline) + "Z")
  .attr("fill", "#ffff00");

svg.append("g").selectAll("rect").data(coreGaps).enter().append("rect")
  .attr("x", function(d) { return x(d[0]) - 0.7; })
  .attr("y", function(d) { return y(d[1]) - 0.7; })
  .attr("width", 1.4)
  .attr("height", 1.4)
  .attr("fill", "#2a2a30");

var particles = [];
[farLeft, midLeft, nearLeft, nearLeftClumps, upperHalo, lowerHalo, nearRight, nearRightClumps, midRight, farRight, belowRight].forEach(function(group) {
  group.forEach(function(strip) {
    strip[1].forEach(function(v) { particles.push([strip[0], v]); });
  });
});

svg.append("g").selectAll("rect").data(particles).enter().append("rect")
  .attr("x", function(d) { return x(d[0]) - 0.95; })
  .attr("y", function(d) { return y(d[1]) - 0.85; })
  .attr("width", 1.9)
  .attr("height", 1.7)
  .attr("fill", "#ffff00");

// axes, only the labels are shown
var tickFont = "'Liberation Sans', Arial, sans-serif";
var tickText = function(d) { return d.toFixed(1); };

var xAxis = svg.append("g").attr("transform", "translate(0,698)")
  .call(d3.axisBottom(x).tickValues(xTicks).tickSize(0).tickPadding(2).tickFormat(tickText));
xAxis.select(".domain").remove();
xAxis.selectAll("text").attr("font-family", tickFont).attr("font-size", 10.5).attr("fill", "#1c1c1c");
// end labels are pulled inwards
xAxis.selectAll("text").filter(function(d) { return d === -20; }).attr("dx", 13);
xAxis.selectAll("text").filter(function(d) { return d === 20; }).attr("dx", -6);

var yAxis = svg.append("g").attr("transform", "translate(78,0)")
  .call(d3.axisLeft(y).tickValues(yTicks).tickSize(0).tickPadding(1).tickFormat(tickText));
yAxis.select(".domain").remove();
yAxis.selectAll("text").attr("font-family", tickFont).attr("font-size", 10.5).attr("fill", "#1c1c1c");
yAxis.selectAll("text").filter(function(d) { return d === 2; }).attr("dy", "0.72em");
yAxis.selectAll("text").filter(function(d) { return d === -2; }).attr("dy", "0.02em");

// titles
svg.append("text")
  .text("Beta.Gamma.Y'[rad] x 10E-3")
  .attr("x", 24).attr("y", 45)
  .attr("font-family", "'DejaVu Sans', sans-serif")
  .attr("font-weight", "bold").attr("font-style", "italic")
  .attr("font-size", 13.4).attr("fill", "#111111");

svg.append("text")
  .text("Y [m] x 10E-3")
  .attr("x", 655).attr("y", 726)
  .attr("font-family", "'DejaVu Sans', sans-serif")
  .attr("font-weight", "bold").attr("font-style", "italic")
  .attr("font-size", 14.5).attr("letter-spacing", 1.3).attr("fill", "#111111");
</script>
</body>
</html>
